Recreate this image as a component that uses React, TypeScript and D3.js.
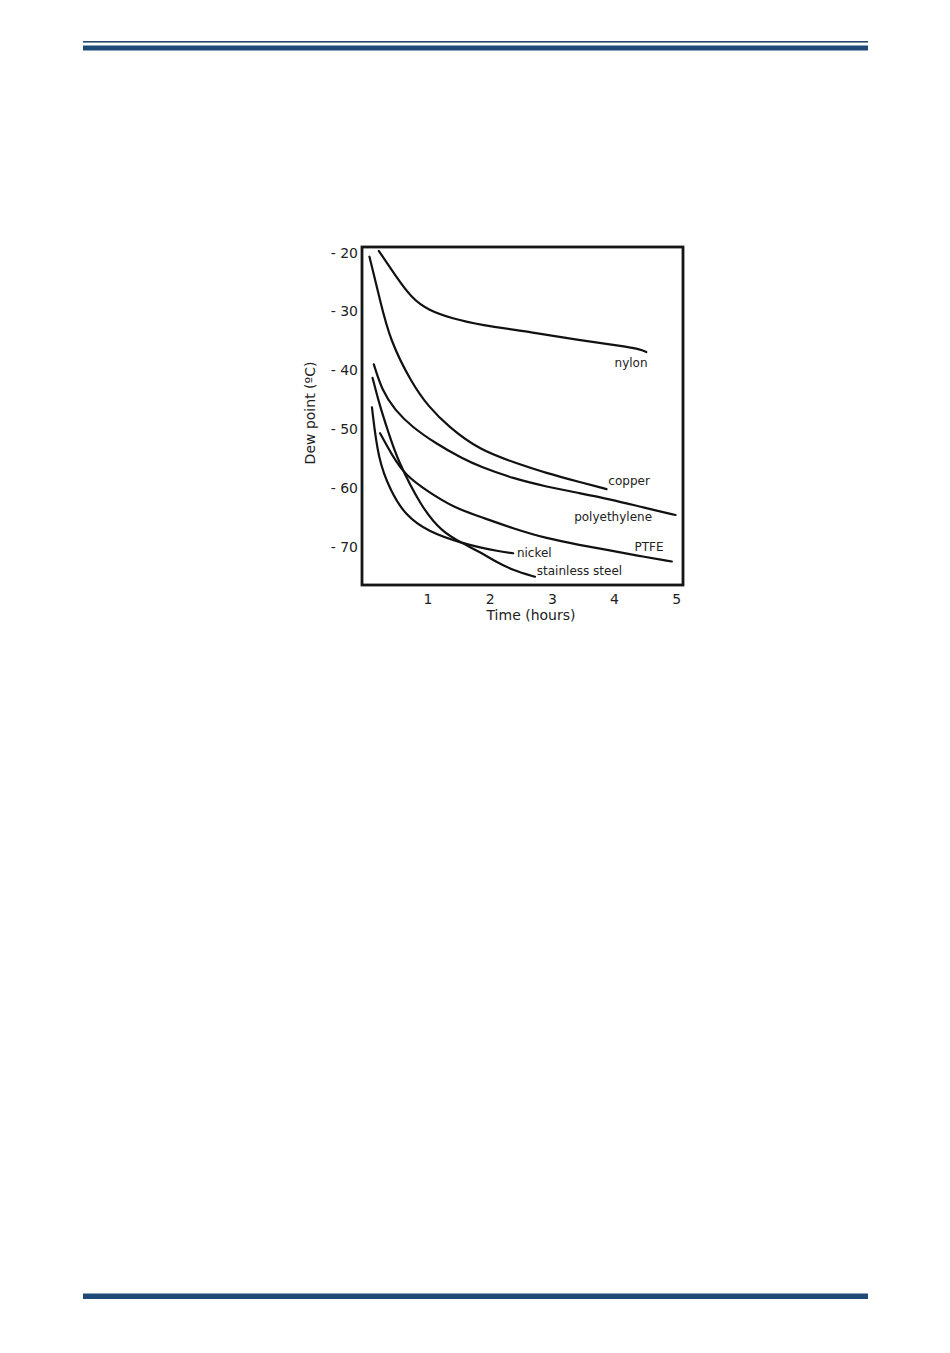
import React from "react";
import * as d3 from "d3";

type Pt = [number, number];

const nylon: Pt[] = [[0.21, -19.8], [0.47, -23.9], [0.74, -27.9], [1.01, -29.9], [1.39, -31.3], [1.84, -32.4], [2.64, -33.6], [3.44, -35.0], [4.13, -36.0], [4.41, -36.5], [4.51, -37.0]];
const copper: Pt[] = [[0.06, -20.8], [0.23, -28.2], [0.39, -35.0], [0.74, -42.3], [1.01, -46.3], [1.33, -49.7], [1.84, -53.7], [2.37, -55.7], [2.91, -57.6], [3.44, -59.1], [3.87, -60.3]];
const polyethylene: Pt[] = [[0.13, -39.1], [0.26, -43.5], [0.47, -46.9], [0.74, -49.7], [1.12, -52.5], [1.55, -55.1], [1.84, -56.5], [2.37, -58.5], [2.91, -59.9], [3.44, -61.0], [3.92, -62.0], [4.49, -63.5], [4.98, -64.7]];
const ptfe: Pt[] = [[0.23, -50.8], [0.42, -54.5], [0.63, -57.9], [1.01, -60.8], [1.43, -63.5], [1.84, -65.0], [2.37, -67.0], [2.91, -68.7], [3.44, -69.8], [3.92, -70.7], [4.41, -71.7], [4.92, -72.6]];
const nickel: Pt[] = [[0.10, -46.4], [0.20, -55.4], [0.40, -60.6], [0.63, -64.7], [1.01, -67.6], [1.55, -69.5], [1.87, -70.3], [2.10, -70.8], [2.37, -71.2]];
const stainless: Pt[] = [[0.11, -41.4], [0.23, -46.3], [0.37, -50.8], [0.50, -55.1], [0.90, -63.5], [1.23, -67.6], [1.55, -69.5], [1.84, -71.0], [2.10, -72.7], [2.37, -74.1], [2.72, -75.2]];

const seriesNames = ["nylon", "copper", "polyethylene", "PTFE", "nickel", "stainless steel"];
const seriesData = [nylon, copper, polyethylene, ptfe, nickel, stainless];
// label anchor (data coords of label's left/baseline)
const labelPos: Pt[] = [[4.0, -39.6], [3.9, -59.6], [3.35, -65.8], [4.32, -70.9], [2.43, -71.8], [2.75, -74.9]];

const xTicks = [1, 2, 3, 4, 5];
const yTicks = [-20, -30, -40, -50, -60, -70];
const xTitle = "Time (hours)";
const yTitle = "Dew point (ºC)";

const FONT = "'DejaVu Sans', Verdana, sans-serif";

export default function App() {
  const x = d3.scaleLinear().domain([-0.06, 5.1]).range([362, 683]);
  const y = d3.scaleLinear().domain([-19.15, -76.6]).range([247, 585]);
  const line = d3
    .line<Pt>()
    .x((d) => x(d[0]))
    .y((d) => y(d[1]))
    .curve(d3.curveBasis);

  return (
    <svg
      width={950}
      height={1353}
      style={{ position: "absolute", left: 0, top: 0, background: "#fff" }}
    >
      {/* page header/footer rules */}
      <rect x={83} y={41} width={785} height={1.6} fill="#27496f" />
      <rect x={83} y={45.5} width={785} height={5} fill="#1f4a78" />
      <rect x={83} y={1293.5} width={785} height={5.5} fill="#1f4a78" />

      {/* curves */}
      {seriesData.map((s, i) => (
        <path key={i} d={line(s) || ""} fill="none" stroke="#111" strokeWidth={2.2} strokeLinecap="round" />
      ))}

      {/* frame */}
      <rect x={362} y={247} width={321} height={338} fill="none" stroke="#151515" strokeWidth={2.8} />

      {/* y ticks */}
      {yTicks.map((t) => (
        <text key={t} x={358} y={y(t) + 5.5} textAnchor="end" fontFamily={FONT} fontSize={14} fill="#222">
          {"- " + Math.abs(t)}
        </text>
      ))}
      {/* x ticks */}
      {xTicks.map((t) => (
        <text key={t} x={x(t)} y={604} textAnchor="middle" fontFamily={FONT} fontSize={14} fill="#222">
          {t}
        </text>
      ))}
      <text x={531} y={620} textAnchor="middle" fontFamily={FONT} fontSize={14} fill="#222">
        {xTitle}
      </text>
      <text
        transform="translate(315,413) rotate(-90)"
        textAnchor="middle"
        fontFamily={FONT}
        fontSize={14}
        fill="#222"
      >
        {yTitle}
      </text>

      {/* series labels */}
      {seriesNames.map((n, i) => (
        <text key={n} x={x(labelPos[i][0])} y={y(labelPos[i][1])} fontFamily={FONT} fontSize={12} fill="#222">
          {n}
        </text>
      ))}
    </svg>
  );
}
